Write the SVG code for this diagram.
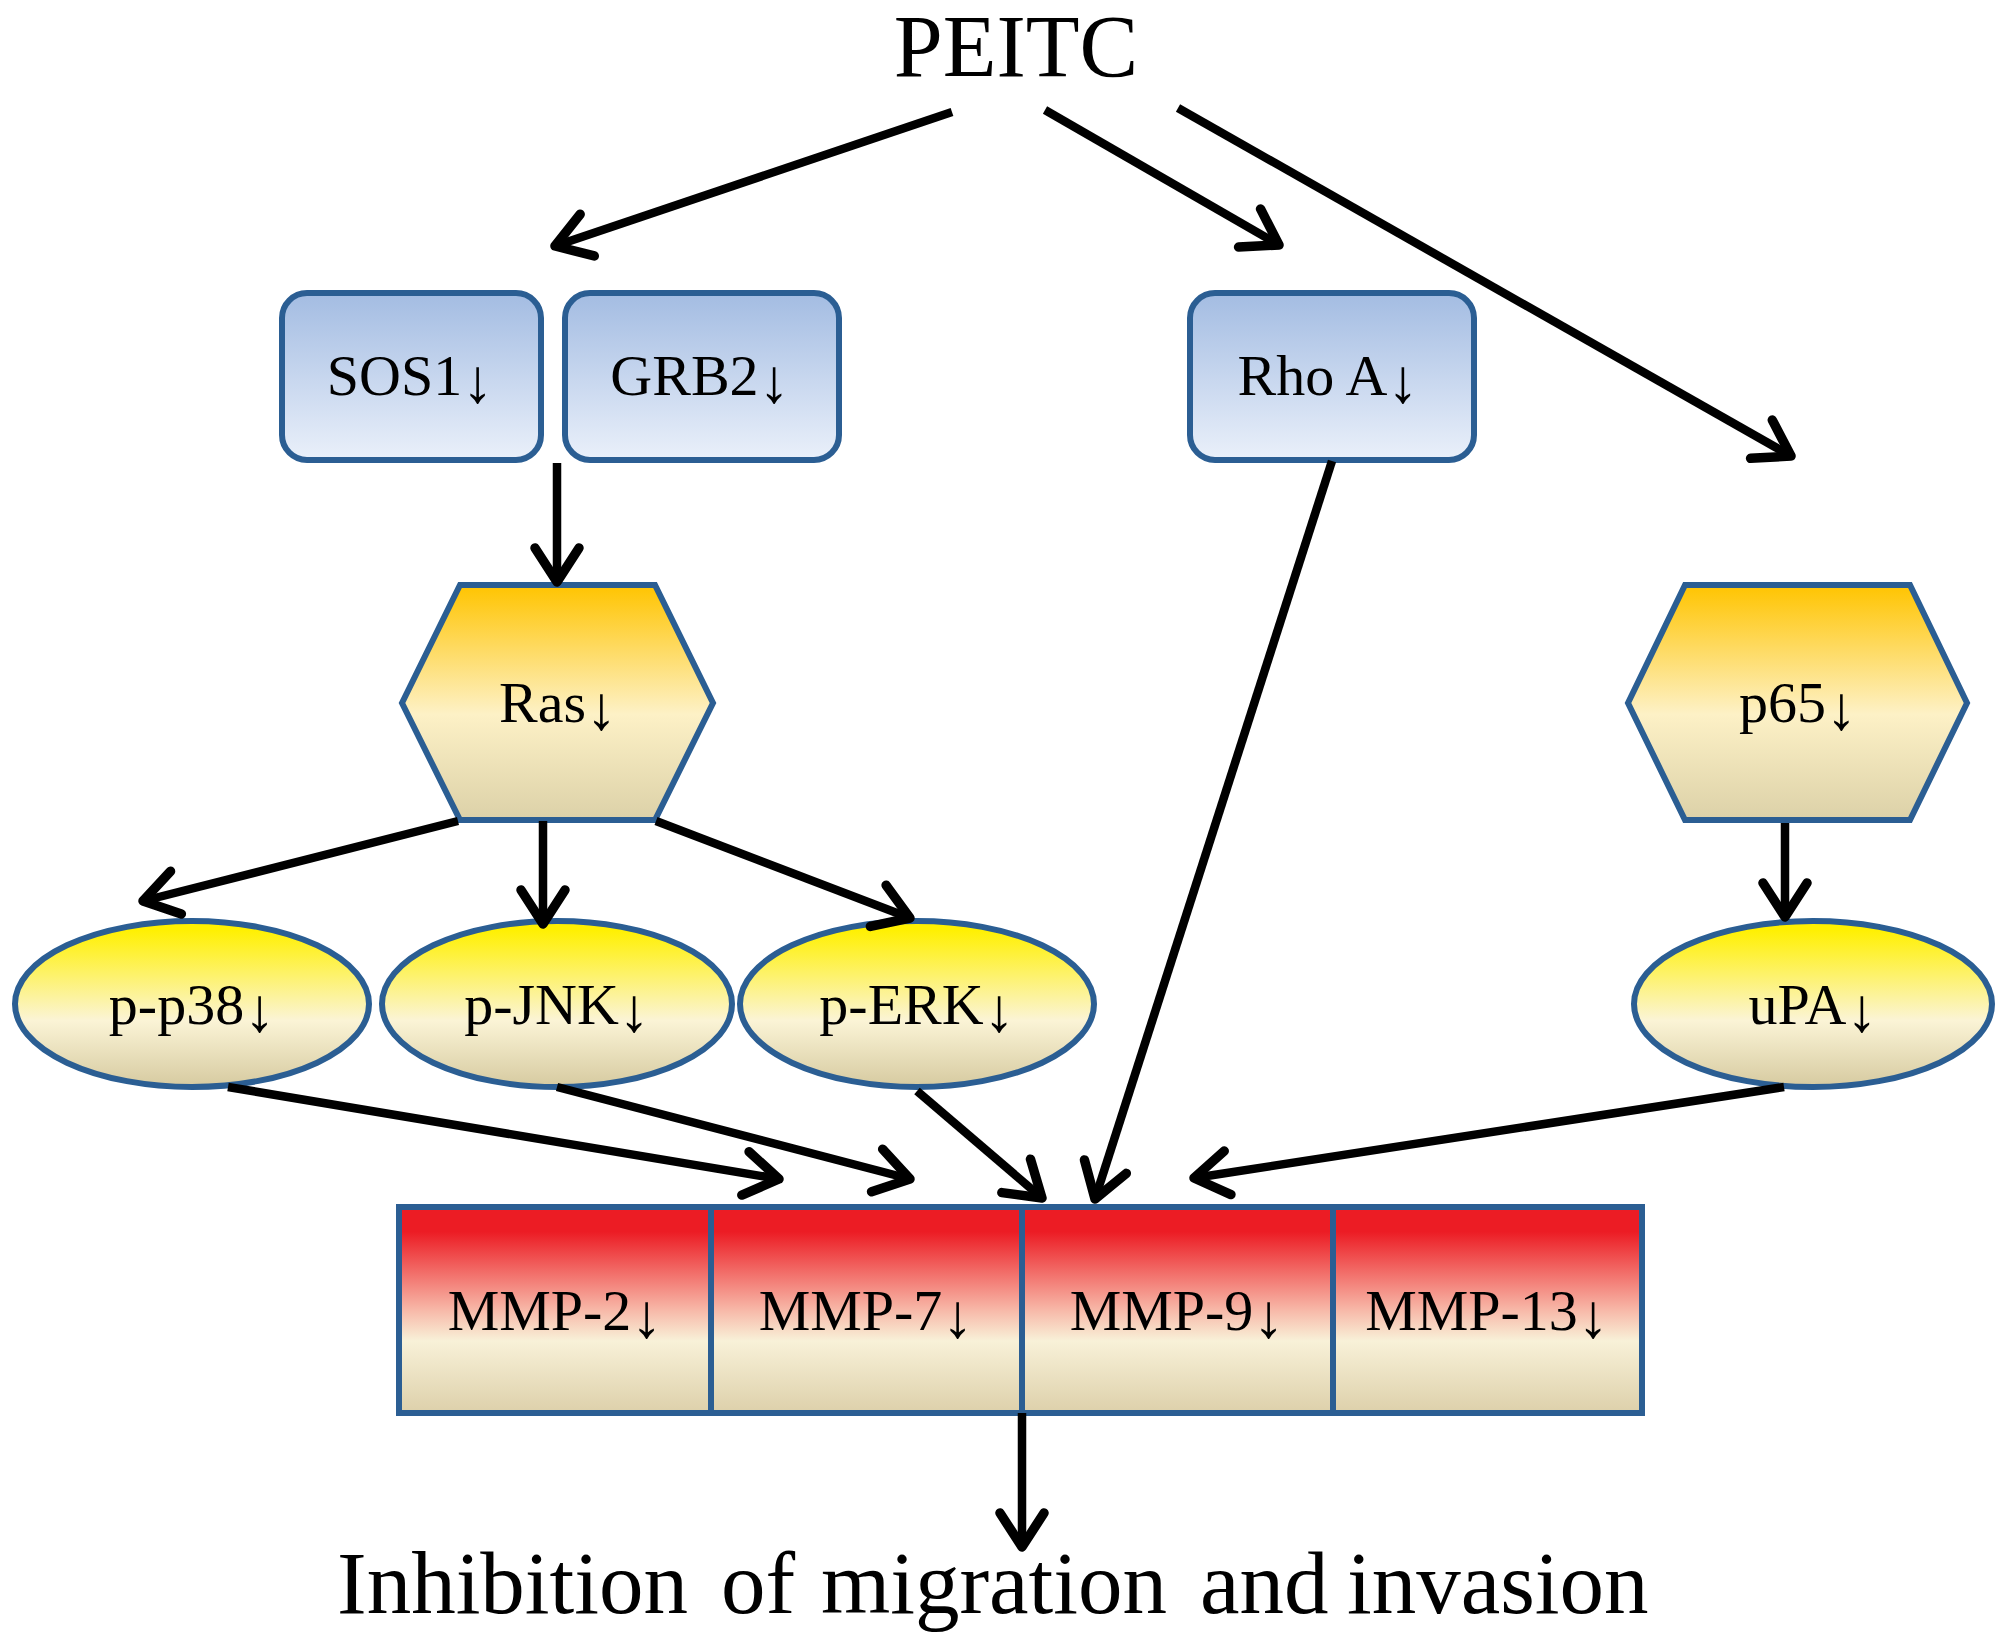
<svg xmlns="http://www.w3.org/2000/svg" width="2008" height="1649" viewBox="0 0 2008 1649">
<style>
text{font-family:"Liberation Serif","Times New Roman",serif;fill:#000}
.lbl{font-size:58px;text-anchor:middle}
.ar{font-size:62px}
.node{stroke:#2b5e93;stroke-width:6}
.div{stroke:#2b5e93;stroke-width:6}
.conn line{stroke:#000;stroke-width:8.5;marker-end:url(#ah)}
</style>
<defs>
<linearGradient id="gBlue" x1="0" y1="0" x2="0" y2="1">
<stop offset="0" stop-color="#a3bce2"/><stop offset="1" stop-color="#eaf0fa"/>
</linearGradient>
<linearGradient id="gHex" x1="0" y1="0" x2="0" y2="1">
<stop offset="0" stop-color="#ffc400"/><stop offset="0.55" stop-color="#fdf1c6"/><stop offset="1" stop-color="#dcd1a8"/>
</linearGradient>
<linearGradient id="gEll" x1="0" y1="0" x2="0" y2="1">
<stop offset="0.05" stop-color="#fff000"/><stop offset="0.6" stop-color="#fbf4d6"/><stop offset="1" stop-color="#d6caa0"/>
</linearGradient>
<linearGradient id="gMMP" x1="0" y1="0" x2="0" y2="1">
<stop offset="0.12" stop-color="#ec1c24"/><stop offset="0.5" stop-color="#f7b8a8"/><stop offset="0.65" stop-color="#f8f1d8"/><stop offset="1" stop-color="#ddd0aa"/>
</linearGradient>
<marker id="ah" markerUnits="userSpaceOnUse" viewBox="-45 -30 55 60" markerWidth="55" markerHeight="60" refX="0" refY="0" orient="auto">
<path d="M-34,-22 L0,0 L-34,22" fill="none" stroke="#000" stroke-width="9.5" stroke-linecap="round" stroke-linejoin="round"/>
</marker>
</defs>
<rect width="2008" height="1649" fill="#fff"/>

<g id="PEITC"><text x="1016" y="76" font-size="88" text-anchor="middle">PEITC</text></g>

<g id="SOS1"><rect class="node" x="282" y="293" width="259" height="167" rx="25" fill="url(#gBlue)"/><text class="lbl" x="410" y="395">SOS1<tspan class="ar" dy="7">↓</tspan></text></g>
<g id="GRB2"><rect class="node" x="565" y="293" width="274" height="167" rx="25" fill="url(#gBlue)"/><text class="lbl" x="700" y="395">GRB2<tspan class="ar" dy="7">↓</tspan></text></g>
<g id="RhoA"><rect class="node" x="1190" y="293" width="284" height="167" rx="25" fill="url(#gBlue)"/><text class="lbl" x="1328" y="395">Rho A<tspan class="ar" dy="7">↓</tspan></text></g>

<g id="Ras"><polygon class="node" points="460,585 655,585 713,703 655,820 460,820 402,703" fill="url(#gHex)"/><text class="lbl" x="558" y="722">Ras<tspan class="ar" dy="7">↓</tspan></text></g>
<g id="p65"><polygon class="node" points="1685,585 1910,585 1967,703 1910,820 1685,820 1628,703" fill="url(#gHex)"/><text class="lbl" x="1798" y="722">p65<tspan class="ar" dy="7">↓</tspan></text></g>

<g id="pp38"><ellipse class="node" cx="192" cy="1004" rx="177" ry="83" fill="url(#gEll)"/><text class="lbl" x="192" y="1024">p-p38<tspan class="ar" dy="7">↓</tspan></text></g>
<g id="pJNK"><ellipse class="node" cx="557" cy="1004" rx="175" ry="83" fill="url(#gEll)"/><text class="lbl" x="557" y="1024">p-JNK<tspan class="ar" dy="7">↓</tspan></text></g>
<g id="pERK"><ellipse class="node" cx="917" cy="1004" rx="177" ry="83" fill="url(#gEll)"/><text class="lbl" x="917" y="1024">p-ERK<tspan class="ar" dy="7">↓</tspan></text></g>
<g id="uPA"><ellipse class="node" cx="1813" cy="1004" rx="179" ry="83" fill="url(#gEll)"/><text class="lbl" x="1813" y="1024">uPA<tspan class="ar" dy="7">↓</tspan></text></g>

<g id="MMP">
<rect class="node" x="399" y="1207" width="1243" height="206" fill="url(#gMMP)"/>
<line class="div" x1="711" y1="1207" x2="711" y2="1413"/>
<line class="div" x1="1022" y1="1207" x2="1022" y2="1413"/>
<line class="div" x1="1333" y1="1207" x2="1333" y2="1413"/>
<text class="lbl" x="555" y="1330">MMP-2<tspan class="ar" dy="7">↓</tspan></text>
<text class="lbl" x="866" y="1330">MMP-7<tspan class="ar" dy="7">↓</tspan></text>
<text class="lbl" x="1177" y="1330">MMP-9<tspan class="ar" dy="7">↓</tspan></text>
<text class="lbl" x="1487" y="1330">MMP-13<tspan class="ar" dy="7">↓</tspan></text>
</g>

<g id="outcome"><text y="1613" font-size="89"><tspan x="337">Inhibition</tspan><tspan x="721">of</tspan><tspan x="821">migration</tspan><tspan x="1200">and</tspan><tspan x="1347">invasion</tspan></text></g>

<g class="conn" id="connectors">
<line x1="952" y1="112" x2="555" y2="246"/>
<line x1="1045" y1="110" x2="1279" y2="245"/>
<line x1="1178" y1="108" x2="1791" y2="456"/>
<line x1="557" y1="463" x2="557" y2="582"/>
<line x1="1332" y1="461" x2="1095" y2="1199"/>
<line x1="458" y1="821" x2="143" y2="901"/>
<line x1="543" y1="821" x2="543" y2="924"/>
<line x1="656" y1="821" x2="910" y2="918"/>
<line x1="1785" y1="823" x2="1785" y2="917"/>
<line x1="228" y1="1087" x2="779" y2="1179"/>
<line x1="557" y1="1087" x2="910" y2="1179"/>
<line x1="917" y1="1091" x2="1042" y2="1198"/>
<line x1="1784" y1="1087" x2="1194" y2="1178"/>
<line x1="1022" y1="1413" x2="1022" y2="1547"/>
</g>
</svg>
